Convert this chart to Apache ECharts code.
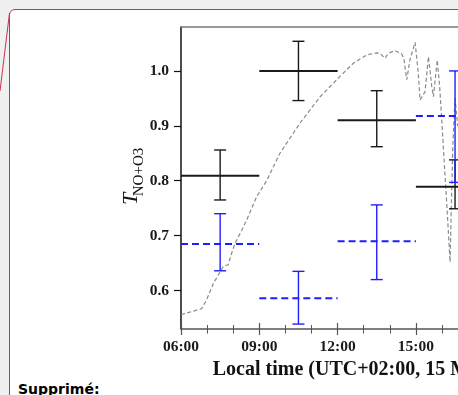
<!DOCTYPE html>
<html>
<head>
<meta charset="utf-8">
<script src="https://cdn.jsdelivr.net/npm/echarts@6/dist/echarts.min.js"></script>
<style>
  html, body { margin: 0; padding: 0; width: 458px; height: 395px; overflow: hidden; background: #f0f0f0; }
  .box { position: absolute; left: 9px; top: 9px; width: 620px; height: 520px; border: 1px solid #c8334f; border-radius: 6px 0 0 0; background: #fff; }
  .note { position: absolute; left: 18px; top: 381px; font: bold 14px 'DejaVu Sans', sans-serif; color: #000; }
  #chart { position: absolute; left: 0; top: 0; width: 640px; height: 395px; }
</style>
</head>
<body>
<div class="box"></div>
<svg style="position:absolute;left:0;top:0" width="20" height="100"><line x1="9.5" y1="13" x2="0" y2="91" stroke="#c8334f" stroke-width="1"/></svg>
<div class="note">Supprimé:</div>
<div id="chart"></div>
<script>
// 3h time windows (local hours) and their centres
const winStart = [6, 9, 12, 15]
const winEnd = [9, 12, 15, 18]
const winCenter = [7.5, 10.5, 13.5, 16.5]

// black (solid) transmissivity, with error range
const blackMean = [0.809, 1.000, 0.910, 0.789]
const blackLow = [0.765, 0.946, 0.862, 0.749]
const blackHigh = [0.856, 1.054, 0.964, 0.838]

// blue (dashed) transmissivity, with error range
const blueMean = [0.685, 0.586, 0.690, 0.918]
const blueLow = [0.636, 0.539, 0.620, 0.797]
const blueHigh = [0.740, 0.635, 0.756, 1.000]

// grey dashed curve: [hour, value]
const curve = [
  [6.00, 0.556], [6.79, 0.567], [6.98, 0.583], [7.24, 0.613], [7.62, 0.644],
  [7.81, 0.647], [7.94, 0.668], [8.07, 0.686], [8.33, 0.710], [8.52, 0.729],
  [8.90, 0.771], [9.28, 0.800], [9.79, 0.850], [10.56, 0.905], [11.33, 0.953],
  [12.09, 0.990], [12.60, 1.014], [13.11, 1.029], [13.50, 1.033], [13.62, 1.032],
  [13.82, 1.023], [13.94, 1.032], [14.20, 1.037], [14.46, 1.031], [14.54, 1.022],
  [14.65, 0.984], [14.77, 1.020], [14.97, 1.052], [15.09, 0.996], [15.16, 0.947],
  [15.35, 0.962], [15.48, 1.026], [15.61, 0.971], [15.67, 0.953], [15.82, 1.020],
  [15.92, 0.965], [15.99, 0.911], [16.05, 0.862], [16.18, 0.760], [16.31, 0.652],
  [16.36, 0.760], [16.42, 0.870], [16.50, 0.950], [16.60, 0.900]
]

const yTicks = [0.6, 0.7, 0.8, 0.9, 1.0]

const chart = echarts.init(document.getElementById('chart'))

function errorBars(color, dashed) {
  return function (params, api) {
    const left = api.coord([api.value(0), api.value(3)])
    const right = api.coord([api.value(1), api.value(3)])
    const lo = api.coord([api.value(2), api.value(4)])
    const hi = api.coord([api.value(2), api.value(5)])
    const cap = 6
    const thin = { stroke: color, lineWidth: 1.4 }
    return {
      type: 'group',
      children: [
        { type: 'line', shape: { x1: left[0], y1: left[1], x2: right[0], y2: right[1] },
          style: { stroke: color, lineWidth: 2, lineDash: dashed ? [7, 4] : null } },
        { type: 'line', shape: { x1: lo[0], y1: lo[1], x2: hi[0], y2: hi[1] }, style: thin },
        { type: 'line', shape: { x1: lo[0] - cap, y1: lo[1], x2: lo[0] + cap, y2: lo[1] }, style: thin },
        { type: 'line', shape: { x1: hi[0] - cap, y1: hi[1], x2: hi[0] + cap, y2: hi[1] }, style: thin }
      ]
    }
  }
}

const blackData = winCenter.map((c, i) => [winStart[i], winEnd[i], c, blackMean[i], blackLow[i], blackHigh[i]])
const blueData = winCenter.map((c, i) => [winStart[i], winEnd[i], c, blueMean[i], blueLow[i], blueHigh[i]])

const tickFont = { fontFamily: 'Liberation Serif', fontWeight: 'bold', fontSize: 15.5, color: '#1a1a1a' }
const hourLabel = v => (v < 10 ? '0' : '') + v + ':00'

chart.setOption({
  animation: false,
  grid: { left: 181, right: 67.5, top: 27, bottom: 66 },
  xAxis: [
    {
      type: 'value', position: 'bottom', min: 6, max: 21, interval: 3,
      axisLine: { lineStyle: { color: '#555', width: 1.5 } },
      axisTick: { inside: true, length: 6, lineStyle: { color: '#555', width: 1.2 } },
      minorTick: { show: true, splitNumber: 3, length: 4, lineStyle: { color: '#555', width: 1 } },
      axisLabel: Object.assign({ margin: 10, formatter: hourLabel }, tickFont),
      splitLine: { show: false },
      name: 'Local time (UTC+02:00, 15 May 2019)',
      nameLocation: 'middle', nameGap: 27,
      nameTextStyle: { fontFamily: 'Liberation Serif', fontWeight: 'bold', fontSize: 20, color: '#111' }
    },
    {
      type: 'value', position: 'bottom', min: 6, max: 21, interval: 3,
      axisLine: { show: false },
      axisTick: { inside: false, length: 6, lineStyle: { color: '#555', width: 1.2 } },
      minorTick: { show: true, splitNumber: 3, length: 4.5, lineStyle: { color: '#555', width: 1 } },
      axisLabel: { show: false },
      splitLine: { show: false }
    },
    {
      type: 'value', position: 'top', min: 6, max: 21,
      axisLine: { lineStyle: { color: '#777', width: 1.5 } },
      axisTick: { show: false },
      axisLabel: { show: false },
      splitLine: { show: false }
    }
  ],
  yAxis: {
    type: 'value', min: 0.53, max: 1.08,
    axisLine: { show: true, lineStyle: { color: '#111', width: 1.5 } },
    axisTick: { show: true, length: 7, customValues: yTicks, lineStyle: { color: '#111', width: 1.2 } },
    axisLabel: Object.assign({ margin: 12, customValues: yTicks, formatter: v => v.toFixed(1) }, tickFont),
    splitLine: { show: false }
  },
  graphic: [
    { type: 'text', x: 131.5, y: 199, rotation: Math.PI / 2,
      style: { text: 'T', font: 'italic 22px "Liberation Serif"', fill: '#111',
        align: 'center', verticalAlign: 'middle', textAlign: 'center', textVerticalAlign: 'middle' } },
    { type: 'text', x: 139, y: 172, rotation: Math.PI / 2,
      style: { text: 'NO+O3', font: '15px "Liberation Serif"', fill: '#111',
        align: 'center', verticalAlign: 'middle', textAlign: 'center', textVerticalAlign: 'middle' } }
  ],
  series: [
    {
      type: 'line', data: curve, showSymbol: false, silent: true, z: 1,
      lineStyle: { color: '#8a8a8a', width: 1.2, type: [4, 2.5] }
    },
    {
      type: 'custom', data: blackData, renderItem: errorBars('#1a1a1a', false),
      encode: { x: [0, 1, 2], y: [3, 4, 5] }, z: 3
    },
    {
      type: 'custom', data: blueData, renderItem: errorBars('#1f1fff', true),
      encode: { x: [0, 1, 2], y: [3, 4, 5] }, z: 3
    }
  ]
})
</script>
</body>
</html>
